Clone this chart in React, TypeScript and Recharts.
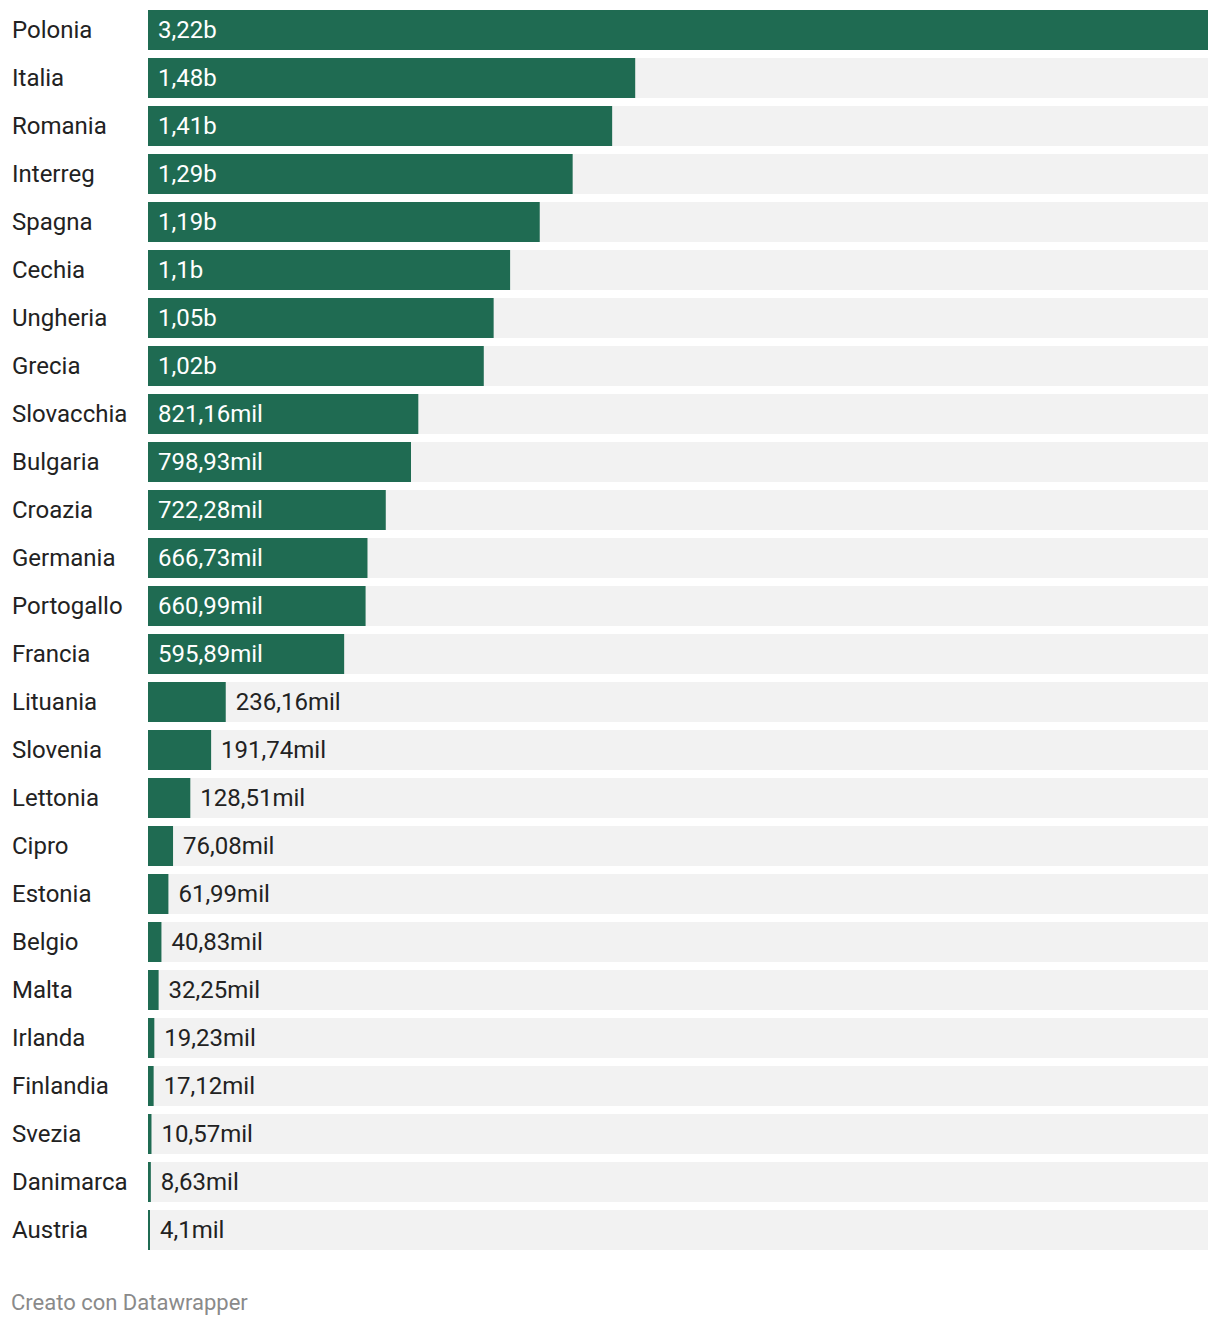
import React from "react";
import { BarChart, Bar, XAxis, YAxis, LabelList } from "recharts";

const countries = [
  "Polonia", "Italia", "Romania", "Interreg", "Spagna", "Cechia", "Ungheria", "Grecia",
  "Slovacchia", "Bulgaria", "Croazia", "Germania", "Portogallo", "Francia", "Lituania",
  "Slovenia", "Lettonia", "Cipro", "Estonia", "Belgio", "Malta", "Irlanda", "Finlandia",
  "Svezia", "Danimarca", "Austria",
];

// values in millions
const values = [
  3220, 1480, 1410, 1290, 1190, 1100, 1050, 1020, 821.16, 798.93, 722.28, 666.73, 660.99,
  595.89, 236.16, 191.74, 128.51, 76.08, 61.99, 40.83, 32.25, 19.23, 17.12, 10.57, 8.63, 4.1,
];

const valueLabels = [
  "3,22b", "1,48b", "1,41b", "1,29b", "1,19b", "1,1b", "1,05b", "1,02b", "821,16mil",
  "798,93mil", "722,28mil", "666,73mil", "660,99mil", "595,89mil", "236,16mil", "191,74mil",
  "128,51mil", "76,08mil", "61,99mil", "40,83mil", "32,25mil", "19,23mil", "17,12mil",
  "10,57mil", "8,63mil", "4,1mil",
];

const data = countries.map((c, i) => ({ name: c, value: values[i], label: valueLabels[i] }));

const FONT = "Roboto, 'Noto Sans', sans-serif";
const GREEN = "#1f6b52";

const YTick = (props: any) => {
  const { y, payload } = props;
  return (
    <text x={12} y={y} dy="0.32em" fontSize={24} fill="#222" fontFamily={FONT} textAnchor="start">
      {payload.value}
    </text>
  );
};

const ValueLabel = (props: any) => {
  const { x, y, width, height, index } = props;
  const v = values[index];
  const inside = v > 400;
  const cy = y + height / 2;
  return (
    <text
      x={inside ? x + 10 : x + width + 10}
      y={cy}
      dy="0.32em"
      fontSize={24}
      fill={inside ? "#ffffff" : "#222"}
      fontFamily={FONT}
      textAnchor="start"
    >
      {valueLabels[index]}
    </text>
  );
};

export default function App() {
  return (
    <div style={{ position: "absolute", left: 0, top: 0, width: 1220, height: 1326, background: "#fff", fontFamily: FONT }}>
      <BarChart
        width={1220}
        height={1260}
        data={data}
        layout="vertical"
        margin={{ top: 6, right: 12, bottom: 6, left: 0 }}
        barCategoryGap={4}
      >
        <XAxis type="number" hide domain={[0, 3220]} />
        <YAxis
          type="category"
          dataKey="name"
          width={148}
          axisLine={false}
          tickLine={false}
          tick={<YTick />}
          interval={0}
        />
        <Bar
          dataKey="value"
          fill={GREEN}
          background={{ fill: "#f2f2f2" }}
          isAnimationActive={false}
          minPointSize={2}
          barSize={40}
        >
          <LabelList dataKey="label" content={<ValueLabel />} />
        </Bar>
      </BarChart>
      <div
        style={{
          position: "absolute",
          left: 11,
          top: 1289,
          fontSize: 22,
          color: "#8a8a8a",
          fontFamily: FONT,
          lineHeight: "28px",
        }}
      >
        Creato con Datawrapper
      </div>
    </div>
  );
}
